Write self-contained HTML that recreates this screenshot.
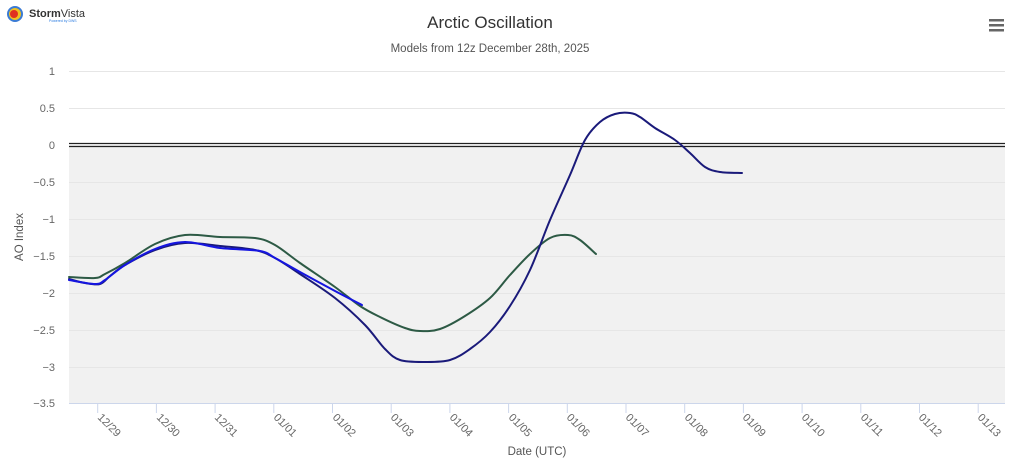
<!DOCTYPE html>
<html><head><meta charset="utf-8"><style>
html,body{margin:0;padding:0;background:#fff;}
svg{display:block;font-family:"Liberation Sans",sans-serif;}
</style></head><body>
<svg width="1024" height="461" viewBox="0 0 1024 461" xmlns="http://www.w3.org/2000/svg">
<rect width="1024" height="461" fill="#fff"/>
<circle cx="15" cy="14" r="8" fill="#3a7bd5"/>
<circle cx="15" cy="14" r="6" fill="#f0c020"/>
<circle cx="14" cy="14" r="4" fill="#e03020"/>
<text x="29" y="17" font-size="11" font-weight="bold" fill="#333">Storm<tspan font-weight="normal">Vista</tspan></text>
<text x="49" y="22" font-size="3.5" fill="#2a7be0">Powered by DWS</text>
<rect x="989" y="19" width="15" height="2.5" fill="#666"/>
<rect x="989" y="24" width="15" height="2.5" fill="#666"/>
<rect x="989" y="29" width="15" height="2.5" fill="#666"/>
<text x="490" y="28" font-size="17" fill="#333" text-anchor="middle">Arctic Oscillation</text>
<text x="490" y="52" font-size="11.5" fill="#555" text-anchor="middle">Models from 12z December 28th, 2025</text>
<rect x="69" y="145" width="936" height="258" fill="#f1f1f1"/>
<g stroke="#e6e6e6" stroke-width="1">
<line x1="69" x2="1005" y1="71.5" y2="71.5"/>
<line x1="69" x2="1005" y1="108.5" y2="108.5"/>
<line x1="69" x2="1005" y1="182.5" y2="182.5"/>
<line x1="69" x2="1005" y1="219.5" y2="219.5"/>
<line x1="69" x2="1005" y1="256.5" y2="256.5"/>
<line x1="69" x2="1005" y1="293.5" y2="293.5"/>
<line x1="69" x2="1005" y1="330.5" y2="330.5"/>
<line x1="69" x2="1005" y1="367.5" y2="367.5"/>
</g>
<line x1="69" x2="1005" y1="143.5" y2="143.5" stroke="#222" stroke-width="1.3"/>
<line x1="69" x2="1005" y1="146.5" y2="146.5" stroke="#222" stroke-width="1.3"/>
<line x1="69" x2="1005" y1="403.5" y2="403.5" stroke="#ccd6eb" stroke-width="1"/>
<g font-size="11" fill="#666" text-anchor="end">
<text x="55" y="75">1</text><text x="55" y="112">0.5</text><text x="55" y="149">0</text>
<text x="55" y="186">−0.5</text><text x="55" y="223">−1</text><text x="55" y="260">−1.5</text>
<text x="55" y="297">−2</text><text x="55" y="334">−2.5</text><text x="55" y="371">−3</text>
<text x="55" y="407">−3.5</text>
</g>
<text transform="translate(23,237) rotate(-90)" font-size="11.5" fill="#555" text-anchor="middle">AO Index</text>
<text x="537" y="455" font-size="11.5" fill="#555" text-anchor="middle">Date (UTC)</text>
<g stroke="#ccd6eb">
<line x1="97.7" x2="97.7" y1="403" y2="413"/><line x1="156.4" x2="156.4" y1="403" y2="413"/>
<line x1="215.1" x2="215.1" y1="403" y2="413"/><line x1="273.8" x2="273.8" y1="403" y2="413"/>
<line x1="332.5" x2="332.5" y1="403" y2="413"/><line x1="391.2" x2="391.2" y1="403" y2="413"/>
<line x1="449.9" x2="449.9" y1="403" y2="413"/><line x1="508.6" x2="508.6" y1="403" y2="413"/>
<line x1="567.3" x2="567.3" y1="403" y2="413"/><line x1="626" x2="626" y1="403" y2="413"/>
<line x1="684.7" x2="684.7" y1="403" y2="413"/><line x1="743.4" x2="743.4" y1="403" y2="413"/>
<line x1="802.1" x2="802.1" y1="403" y2="413"/><line x1="860.8" x2="860.8" y1="403" y2="413"/>
<line x1="919.5" x2="919.5" y1="403" y2="413"/><line x1="978.2" x2="978.2" y1="403" y2="413"/>
</g>
<g font-size="11" fill="#666">
<text transform="translate(97,418) rotate(45)">12/29</text>
<text transform="translate(156,418) rotate(45)">12/30</text>
<text transform="translate(214,418) rotate(45)">12/31</text>
<text transform="translate(273,418) rotate(45)">01/01</text>
<text transform="translate(332,418) rotate(45)">01/02</text>
<text transform="translate(390,418) rotate(45)">01/03</text>
<text transform="translate(449,418) rotate(45)">01/04</text>
<text transform="translate(508,418) rotate(45)">01/05</text>
<text transform="translate(566,418) rotate(45)">01/06</text>
<text transform="translate(625,418) rotate(45)">01/07</text>
<text transform="translate(684,418) rotate(45)">01/08</text>
<text transform="translate(742,418) rotate(45)">01/09</text>
<text transform="translate(801,418) rotate(45)">01/10</text>
<text transform="translate(860,418) rotate(45)">01/11</text>
<text transform="translate(918,418) rotate(45)">01/12</text>
<text transform="translate(977,418) rotate(45)">01/13</text>
</g>
<g fill="none" stroke-width="2" stroke-linejoin="round" stroke-linecap="round">
<path id="g" stroke="#2d5a45" data-p="69,277 95,278 105,274 125,263 155,244 185,235 220,237 255,238 275,245 300,263 335,287 360,306 380,317 405,328 420,331 440,329 465,316 490,298 510,275 530,254 550,238 568,235 580,240 596,254" d="M69,277 L95,278 105,274 125,263 155,244 185,235 220,237 255,238 275,245 300,263 335,287 360,306 380,317 405,328 420,331 440,329 465,316 490,298 510,275 530,254 550,238 568,235 580,240 596,254"/>
<path id="n" stroke="#1a1a7a" data-p="69,279 85,283 100,284 110,276 125,265 155,250 185,243 220,246 255,250 275,258 300,274 335,298 365,325 385,349 400,360 425,362 450,360 470,349 490,332 510,306 530,270 550,220 570,175 585,140 600,122 615,114 630,113 640,117 655,128 675,140 690,153 705,167 720,172 742,173" d="M69,279 L85,283 100,284 110,276 125,265 155,250 185,243 220,246 255,250 275,258 300,274 335,298 365,325 385,349 400,360 425,362 450,360 470,349 490,332 510,306 530,270 550,220 570,175 585,140 600,122 615,114 630,113 640,117 655,128 675,140 690,153 705,167 720,172 742,173"/>
<path id="b" stroke="#1515e0" data-p="69,280 95,284 105,280 125,265 155,249 185,242 220,248 260,251 275,258 300,272 335,291 362,305" d="M69,280 L95,284 105,280 125,265 155,249 185,242 220,248 260,251 275,258 300,272 335,291 362,305"/>
</g>
</svg>
<script>
['g','n','b'].forEach(function(id){
var el=document.getElementById(id);
var p=el.getAttribute('data-p').split(' ').map(function(s){return s.split(',').map(Number);});
var d='M'+p[0][0]+','+p[0][1];
for(var i=0;i<p.length-1;i++){
var p0=p[i-1]||p[i],p1=p[i],p2=p[i+1],p3=p[i+2]||p2;
var c1x=p1[0]+(p2[0]-p0[0])/6,c1y=p1[1]+(p2[1]-p0[1])/6;
var c2x=p2[0]-(p3[0]-p1[0])/6,c2y=p2[1]-(p3[1]-p1[1])/6;
d+=' C'+c1x.toFixed(1)+','+c1y.toFixed(1)+' '+c2x.toFixed(1)+','+c2y.toFixed(1)+' '+p2[0]+','+p2[1];
}
el.setAttribute('d',d);el.removeAttribute('data-p');
});
</script>
</body></html>
